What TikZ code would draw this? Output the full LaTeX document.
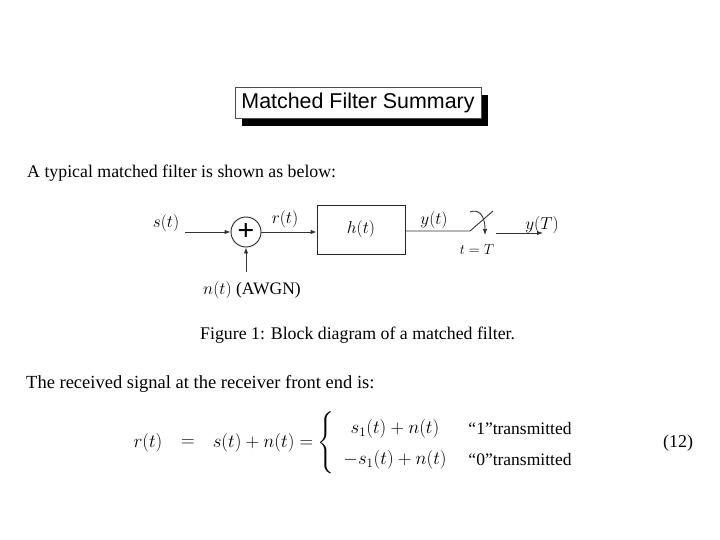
\documentclass[tikz,border=0pt]{standalone}
\usepackage{amsmath}
\usepackage{fontspec}
\setmainfont{Liberation Serif}
\newfontfamily\titlefont{Liberation Sans}
\usetikzlibrary{arrows.meta}
\tikzset{
  lab/.style={inner sep=0pt,font=\fontsize{17.5}{19}\selectfont},
  eqn/.style={inner sep=0pt,scale=1.09,font=\fontsize{17.5}{19}\selectfont},
  bodytext/.style={inner sep=0pt,anchor=base west,font=\fontsize{17.8}{20}\selectfont},
  sig/.style={draw=black!80,line width=0.9pt,-{Latex[length=6pt,width=4.5pt]}},
  wire/.style={draw=black!80,line width=0.9pt}
}
\begin{document}
\begin{tikzpicture}[x=1pt,y=-1pt]
\useasboundingbox[fill=white] (0,0) rectangle (720,540);
% title
\fill[black] (242,95) rectangle (488,126);
\node[draw=black!70,fill=white,line width=0.8pt,minimum width=246pt,minimum height=31pt,inner sep=0pt,font=\titlefont\fontsize{21.4}{24}\selectfont] (title) at (358,102.5) {Matched Filter Summary};
% texts
\node[bodytext] (intro) at (27,178) {A typical matched filter is shown as below:};
\node[bodytext] (caption) at (200,339) {Figure 1: Block diagram of a matched filter.};
\node[bodytext,font=\fontsize{18.5}{20}\selectfont] (recv) at (26,388) {The received signal at the receiver front end is:};
% block diagram
\node[lab] (s) at (166,223) {$s(t)$};
\coordinate (sin) at (185,232);
\node[draw=black!85,circle,line width=0.9pt,minimum size=30pt,inner sep=0pt] (sum) at (246,232) {\fontsize{30}{30}\selectfont\bfseries\raisebox{-1pt}{+}};
\node[draw=black!85,line width=0.9pt,minimum width=88pt,minimum height=49pt,inner sep=0pt,font=\fontsize{17.5}{19}\selectfont] (h) at (361,229.5) {\raisebox{-4pt}{$h(t)$}};
\node[lab] (r) at (285,219) {$r(t)$};
\node[lab] (y) at (434,220) {$y(t)$};
\coordinate (nin) at (246,272);
\node[lab] (n) at (252,290) {$n(t)$ (AWGN)};
\coordinate (swa) at (470,231);
\coordinate (swb) at (493,211);
\coordinate (arcs) at (470,212);
\coordinate (arct) at (485,235);
\coordinate (outa) at (496,233);
\coordinate (outb) at (543,233);
\node[lab,font=\fontsize{14}{16}\selectfont] (tT) at (477,250) {$t=T$};
\node[lab] (yT) at (542,225) {$y(T)$};
\draw[sig] (sin) -- (sum);
\draw[sig] (sum) -- (sum -| h.west);
\draw[sig] (nin) -- (sum);
\draw[wire] (h.east |- swa) -- (swa) -- (swb);
\draw[wire,-{Latex[length=6pt,width=4.5pt]}] (arcs) .. controls (478,209) and (485,214) .. (arct);
\draw[sig] (outa) -- (outb);
% equation
\node[eqn] (e1) at (148,443) {$r(t)$};
\node[eqn] (e2) at (188,443) {$=$};
\node[eqn] (e3) at (263,443) {$s(t)+n(t)=$};
\node[inner sep=0pt] (br) at (326,443) {\fontsize{19.2}{21}\selectfont$\left\{\rule{0pt}{33pt}\right.$};
\node[eqn] (c1) at (395,429) {$s_1(t)+n(t)$};
\node[eqn] (c2) at (395,460) {$-s_1(t)+n(t)$};
\node[lab] (d1) at (520,429) {``1''transmitted};
\node[lab] (d2) at (520,460) {``0''transmitted};
\node[lab,font=\fontsize{18}{20}\selectfont] (num) at (678,443) {(12)};
\end{tikzpicture}
\end{document}
